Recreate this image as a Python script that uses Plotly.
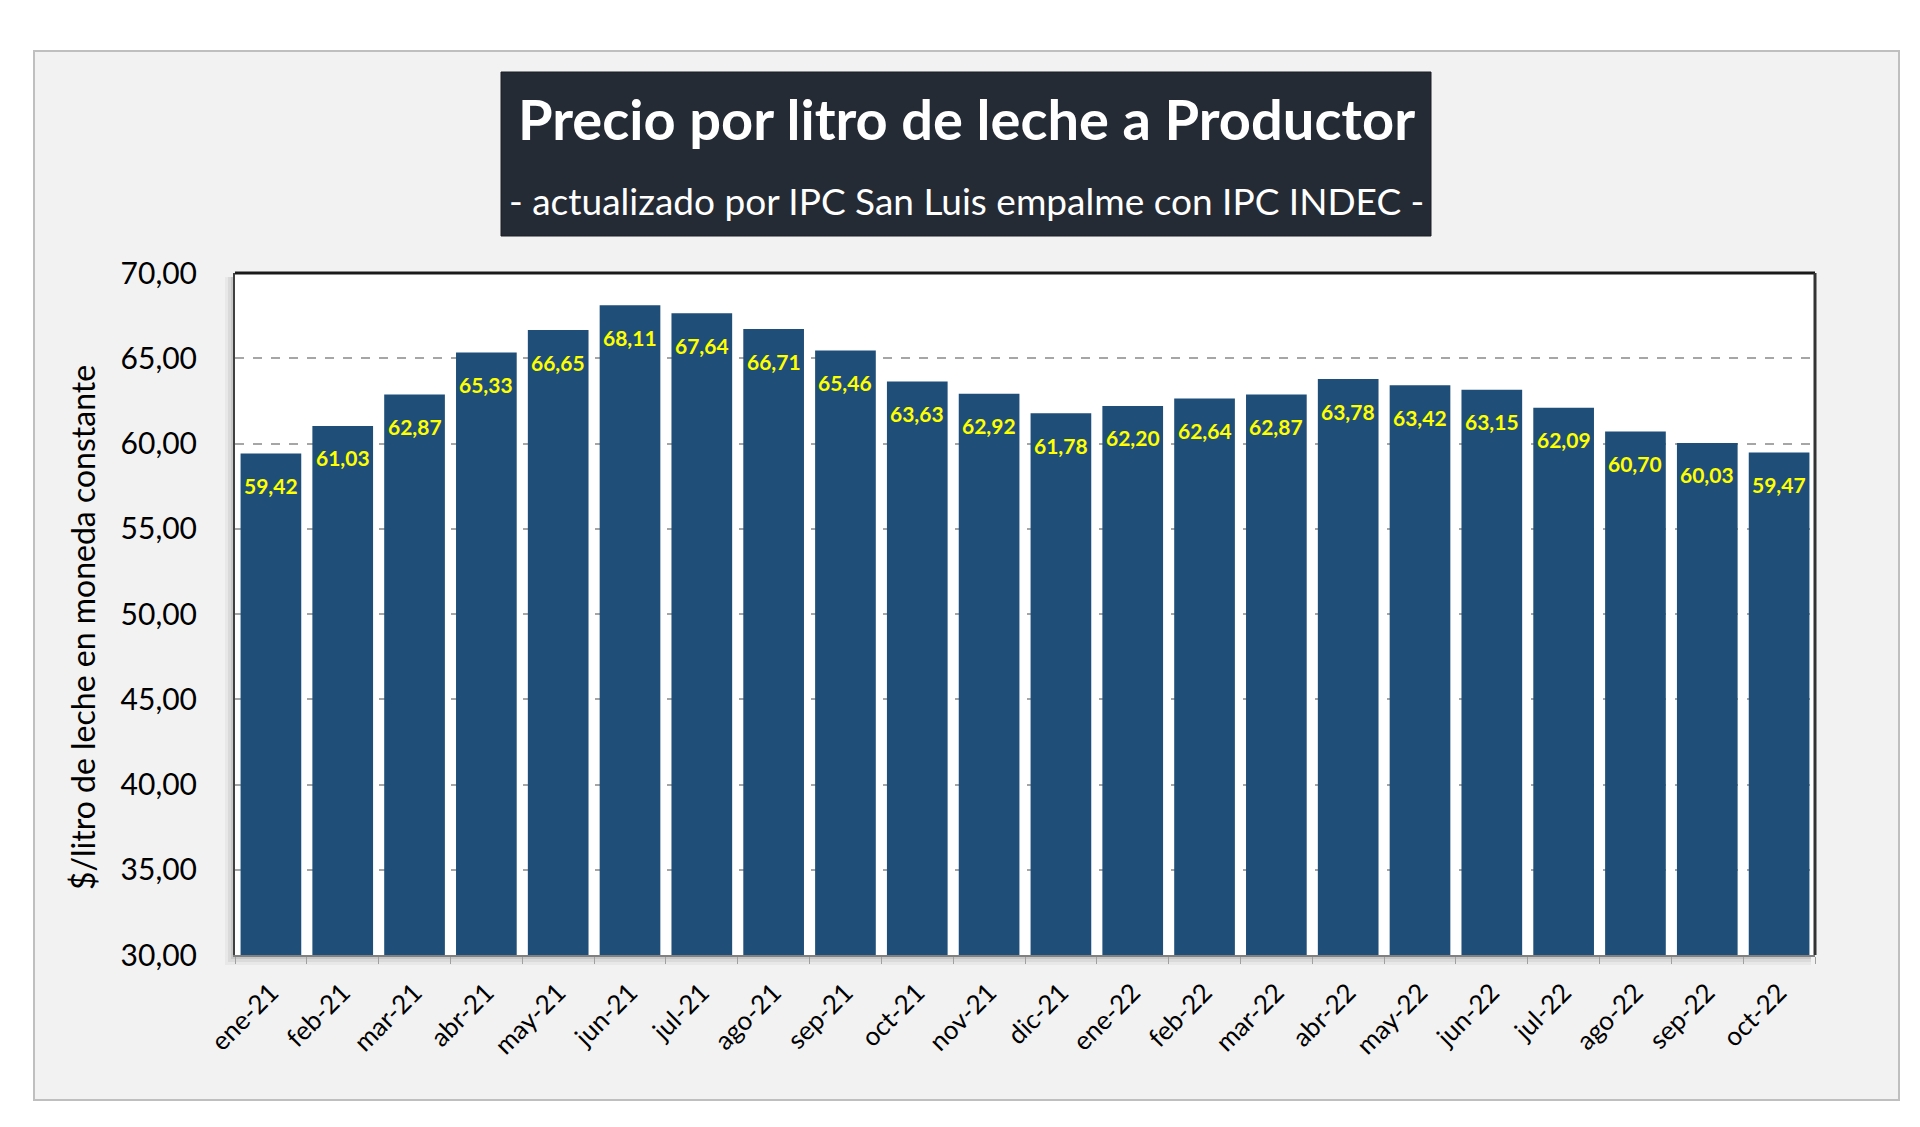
import plotly.graph_objects as go

categories = ["ene-21", "feb-21", "mar-21", "abr-21", "may-21", "jun-21", "jul-21",
              "ago-21", "sep-21", "oct-21", "nov-21", "dic-21", "ene-22", "feb-22",
              "mar-22", "abr-22", "may-22", "jun-22", "jul-22", "ago-22", "sep-22", "oct-22"]
values = [59.42, 61.03, 62.87, 65.33, 66.65, 68.11, 67.64, 66.71, 65.46, 63.63, 62.92,
          61.78, 62.20, 62.64, 62.87, 63.78, 63.42, 63.15, 62.09, 60.70, 60.03, 59.47]
title_text = "Precio por litro de leche a Productor"
subtitle_text = "- actualizado por IPC San Luis empalme con IPC INDEC -"
y_title = "$/litro de leche en moneda constante"

W, H = 1920, 1127
L, R, T, B = 227, 113, 265, 180
PW, PH = W - L - R, H - T - B


def px(x):
    return (x - L) / PW


def py(y):
    return (H - B - y) / PH


FONT = "Lato"

fig = go.Figure()
fig.add_trace(go.Bar(
    x=categories, y=values, marker=dict(color="#1F4E79", line=dict(width=0)),
    hoverinfo="x+y",
))

shapes = []
# outer frame
shapes.append(dict(type="rect", xref="paper", yref="paper", layer="below",
                   x0=px(26), x1=px(1891), y0=py(1092), y1=py(43),
                   fillcolor="#F2F2F2", line=dict(color="#BFBFBF", width=2)))
# shadow of plot area
for k, op in [(10, 0.04), (7, 0.06), (4, 0.08), (2, 0.10)]:
    shapes.append(dict(type="rect", xref="paper", yref="paper", layer="below",
                       x0=px(L - k), x1=px(L + PW - 4), y0=py(H - B + k), y1=py(T + 4),
                       fillcolor=f"rgba(0,0,0,{op})", line=dict(width=0)))
# plot area background
shapes.append(dict(type="rect", xref="paper", yref="paper", layer="below",
                   x0=0, x1=1, y0=0, y1=1, fillcolor="white", line=dict(width=0)))
# title box
shapes.append(dict(type="rect", xref="paper", yref="paper", layer="below",
                   x0=px(493), x1=px(1423), y0=py(228), y1=py(64),
                   fillcolor="#252B35", line=dict(color="#1a1f27", width=1)))
# top and right borders of plot area
shapes.append(dict(type="line", xref="paper", yref="paper", x0=0, x1=1, y0=1, y1=1,
                   line=dict(color="#1a1a1a", width=3)))
shapes.append(dict(type="line", xref="paper", yref="paper", x0=1, x1=1, y0=0, y1=1,
                   line=dict(color="#333333", width=3)))

annotations = [
    dict(xref="paper", yref="paper", x=px(958), y=py(110), text=f"<b>{title_text}</b>",
         showarrow=False, font=dict(family=FONT, size=56, color="white"),
         xanchor="center", yanchor="middle"),
    dict(xref="paper", yref="paper", x=px(958), y=py(192), text=subtitle_text,
         showarrow=False, font=dict(family=FONT, size=37, color="white"),
         xanchor="center", yanchor="middle"),
    dict(xref="paper", yref="paper", x=px(74), y=py(620), text=y_title, textangle=-90,
         showarrow=False, font=dict(family=FONT, size=32, color="#000000"),
         xanchor="center", yanchor="middle"),
]
for c, v in zip(categories, values):
    annotations.append(dict(
        x=c, y=v, xref="x", yref="y", yshift=-32, showarrow=False,
        text="<b>" + f"{v:.2f}".replace(".", ",") + "</b>",
        font=dict(family=FONT, size=21, color="#FFFF00"),
        xanchor="center", yanchor="middle"))

fig.update_layout(
    width=W, height=H, autosize=False,
    margin=dict(l=L, r=R, t=T, b=B, pad=0),
    paper_bgcolor="white", plot_bgcolor="rgba(0,0,0,0)",
    separators=",.",
    bargap=0.155,
    showlegend=False,
    font=dict(family=FONT, color="#000000"),
    shapes=shapes, annotations=annotations,
    xaxis=dict(
        type="category", tickangle=-45, tickfont=dict(family=FONT, size=26, color="#000000"),
        showline=True, linecolor="#808080", linewidth=2,
        ticks="outside", tickson="boundaries", ticklen=7, tickcolor="#A0A0A0", tickwidth=1,
        showgrid=False, ticklabelstandoff=10,
    ),
    yaxis=dict(
        range=[30, 70], dtick=5, tick0=30, tickformat=".2f",
        tickfont=dict(family=FONT, size=30, color="#000000"),
        showgrid=True, gridcolor="#A6A6A6", gridwidth=2, griddash="dash",
        showline=True, linecolor="#404040", linewidth=2,
        ticks="", ticklabelstandoff=30, zeroline=False,
    ),
)

fig.write_html("out.html")
